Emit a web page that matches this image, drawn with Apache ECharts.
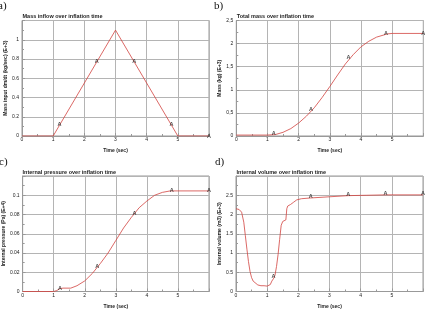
<!DOCTYPE html>
<html>
<head>
<meta charset="utf-8">
<script src="https://cdn.jsdelivr.net/npm/echarts@6/dist/echarts.min.js"></script>
<style>
html, body { margin: 0; padding: 0; background: #fff; }
#chart { width: 427px; height: 310px; }
</style>
</head>
<body>
<div id="chart"></div>
<script>
// values (x = time in sec)
const inflowTime = [0, 1, 3, 5, 6];
const inflowValue = [0, 0, 1.1, 0, 0];

const massTime = [0, 1, 1.25, 1.5, 1.75, 2, 2.25, 2.5, 2.75, 3, 3.25, 3.5, 3.75, 4, 4.25, 4.5, 4.75, 4.85, 5, 6];
const massValue = [0.02, 0.02, 0.03, 0.08, 0.16, 0.28, 0.43, 0.61, 0.83, 1.07, 1.32, 1.56, 1.76, 1.93, 2.05, 2.14, 2.19, 2.21, 2.22, 2.22];

const pressTime = [0, 1, 1.1, 1.2, 1.3, 1.55, 1.75, 2, 2.25, 2.5, 2.75, 3, 3.25, 3.5, 3.75, 4, 4.25, 4.5, 4.75, 5, 6];
const pressValue = [0, 0, 0.001, 0.003, 0.0035, 0.0035, 0.006, 0.011, 0.019, 0.029, 0.04, 0.053, 0.066, 0.077, 0.087, 0.094, 0.1, 0.103, 0.1045, 0.1045, 0.1045];

const volTime = [0, 0.1, 0.18, 0.25, 0.3, 0.35, 0.4, 0.45, 0.5, 0.55, 0.6, 0.7, 0.8, 0.9, 1.0, 1.05, 1.1, 1.15, 1.2, 1.25, 1.3, 1.35, 1.4, 1.45, 1.5, 1.55, 1.6, 1.63, 1.66, 1.75, 1.85, 1.95, 2.1, 2.4, 3, 3.6, 4.2, 4.8, 6];
const volValue = [2.15, 2.13, 2.06, 1.8, 1.45, 1.1, 0.78, 0.52, 0.36, 0.27, 0.22, 0.17, 0.15, 0.15, 0.14, 0.14, 0.18, 0.27, 0.33, 0.42, 0.65, 0.96, 1.35, 1.72, 1.82, 1.84, 1.86, 2.15, 2.22, 2.26, 2.32, 2.38, 2.41, 2.43, 2.46, 2.49, 2.5, 2.51, 2.51];

// "A" marks every 1.2 s
const markTime = [1.2, 2.4, 3.6, 4.8, 6];
const inflowMarks = [0.12, 0.77, 0.77, 0.12, 0];
const massMarks = [0.05, 0.57, 1.7, 2.22, 2.22];
const pressMarks = [0.0035, 0.026, 0.081, 0.105, 0.105];
const volMarks = [0.39, 2.46, 2.52, 2.54, 2.54];

const titles = [
    'Mass inflow over inflation time',
    'Total mass over inflation time',
    'Internal pressure over inflation time',
    'Internal volume over inflation time'
];
const yNames = [
    'Mass input dm/dt (kg/sec) (E+3)',
    'Mass (kg) (E+3)',
    'Internal pressure (Pa) (E+4)',
    'Internal volume (m3) (E+3)'
];
const panelLetters = ['a)', 'b)', 'c)', 'd)'];

const FONT = 'Liberation Sans';
const grids = [
    { left: 22, top: 20.5, width: 187, height: 115.5 },
    { left: 236.3, top: 20.5, width: 187, height: 115.5 },
    { left: 22, top: 176, width: 187, height: 115.7 },
    { left: 236, top: 176, width: 187, height: 115.7 }
];
const yMax = [1.2, 2.5, 0.12, 3];
const yStep = [0.2, 0.5, 0.02, 0.5];
const yGap = [13.5, 11, 15, 13];
const letterPos = [[-2, 6], [214, 6], [-1, 162], [215, 162]];
const titleTop = [13, 13, 169.5, 169.5];

function zip(xs, ys) {
    return xs.map((x, i) => [x, ys[i]]);
}

const lines = [zip(inflowTime, inflowValue), zip(massTime, massValue), zip(pressTime, pressValue), zip(volTime, volValue)];
const marks = [zip(markTime, inflowMarks), zip(markTime, massMarks), zip(markTime, pressMarks), zip(markTime, volMarks)];

const option = {
    animation: false,
    backgroundColor: '#fff',
    textStyle: { fontFamily: FONT },
    title: titles.map((t, i) => ({
        text: t,
        left: grids[i].left + 0.5,
        top: titleTop[i],
        padding: 0,
        textStyle: { fontSize: 5.5, fontWeight: 'bold', color: '#222', fontFamily: FONT }
    })),
    graphic: panelLetters.map((l, i) => ({
        type: 'text',
        x: letterPos[i][0],
        y: letterPos[i][1],
        style: {
            text: l,
            font: '11px "Liberation Serif"',
            fill: '#111',
            verticalAlign: 'middle'
        }
    })),
    grid: grids.map(g => Object.assign({ show: true, borderColor: '#999', borderWidth: 1, backgroundColor: '#fff' }, g)),
    xAxis: grids.map((g, i) => ({
        gridIndex: i,
        type: 'value',
        min: 0,
        max: 6,
        interval: 1,
        name: 'Time (sec)',
        nameLocation: 'middle',
        nameGap: 12.5,
        nameTextStyle: { fontSize: 5, fontWeight: 'bold', color: '#222', fontFamily: FONT },
        axisLine: { lineStyle: { color: '#999', width: 1 } },
        axisTick: { show: true, inside: true, length: 3, lineStyle: { color: '#999' } },
        minorTick: { show: true, splitNumber: 2, length: 2, lineStyle: { color: '#999' } },
        axisLabel: { fontSize: 5, color: '#222', margin: 1.5, showMaxLabel: false },
        splitLine: { show: true, lineStyle: { color: '#b4b4b4', width: 1 } }
    })),
    yAxis: grids.map((g, i) => ({
        gridIndex: i,
        type: 'value',
        min: 0,
        max: yMax[i],
        interval: yStep[i],
        name: yNames[i],
        nameLocation: 'middle',
        nameGap: yGap[i],
        nameTextStyle: { fontSize: 5, fontWeight: 'bold', color: '#222', fontFamily: FONT },
        axisLine: { show: true, lineStyle: { color: '#999', width: 1 } },
        axisTick: { show: true, inside: true, length: 3, lineStyle: { color: '#999' } },
        minorTick: { show: true, splitNumber: 2, length: 2, lineStyle: { color: '#999' } },
        axisLabel: {
            fontSize: 5, color: '#222', margin: 3,
            showMaxLabel: i === 1,
            formatter: v => {
                const s = String(Math.round(v * 10000) / 10000);
                return i === 1 ? s.replace('.', ',') : s;
            }
        },
        splitLine: { show: true, lineStyle: { color: '#b4b4b4', width: 1 } }
    })),
    series: [].concat(
        lines.map((d, i) => ({
            type: 'line',
            xAxisIndex: i,
            yAxisIndex: i,
            data: d,
            showSymbol: false,
            smooth: false,
            lineStyle: { color: '#d2433f', width: 0.8 },
            z: 3
        })),
        marks.map((d, i) => ({
            type: 'scatter',
            xAxisIndex: i,
            yAxisIndex: i,
            data: d,
            symbol: 'circle',
            symbolSize: 1,
            itemStyle: { color: 'rgba(0,0,0,0)' },
            label: {
                show: true,
                position: 'inside',
                formatter: 'A',
                fontSize: 5.5,
                fontWeight: 'bold',
                color: '#222',
                fontFamily: FONT
            },
            z: 5
        }))
    )
};

const chart = echarts.init(document.getElementById('chart'), null, { renderer: 'canvas' });
chart.setOption(option);
</script>
</body>
</html>
